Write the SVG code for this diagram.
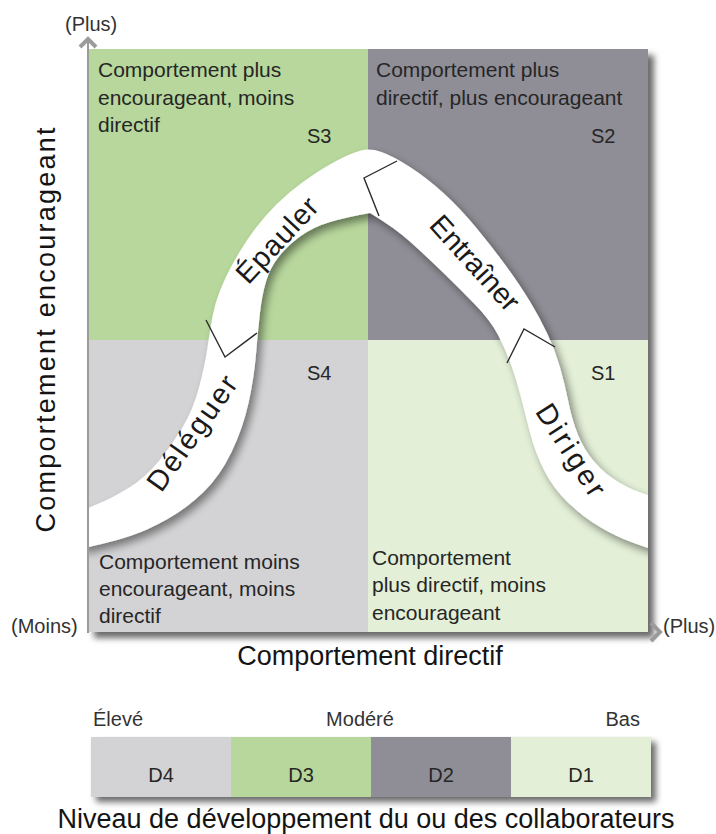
<svg xmlns="http://www.w3.org/2000/svg" width="716" height="834" viewBox="0 0 716 834">
<style>
text{font-family:"Liberation Sans",Arial,sans-serif;fill:#262626}
.q{font-size:21px}
.s{font-size:20px}
.ax{font-size:20px;fill:#333}
.title{font-size:27px;fill:#141414}
.lbl{font-size:29px;fill:#1a1a1a;text-anchor:middle}
.d{font-size:20px;text-anchor:middle}
.chev{fill:none;stroke:#2b2b2b;stroke-width:1.4;stroke-linejoin:miter}
.arrow{fill:none;stroke:#9b9b9b;stroke-width:4}
.band{fill:#ffffff}
</style>
<defs>
<filter id="blur" x="-10%" y="-10%" width="120%" height="120%"><feGaussianBlur stdDeviation="3"/></filter>
<filter id="bsh" x="-20%" y="-20%" width="140%" height="140%">
<feGaussianBlur in="SourceAlpha" stdDeviation="4"/>
<feOffset dx="4" dy="5"/>
<feComponentTransfer><feFuncA type="linear" slope="0.45"/></feComponentTransfer>
<feMerge><feMergeNode/><feMergeNode in="SourceGraphic"/></feMerge>
</filter>
<clipPath id="sq"><rect x="88" y="49" width="560" height="583"/></clipPath>
</defs>

<rect x="94" y="55" width="560" height="583" fill="#6a6a6a" filter="url(#blur)"/>

<g id="q-s3"><rect x="88" y="49" width="280" height="291" fill="#b7d79c"/>
<text class="q" x="98" y="77">Comportement plus</text>
<text class="q" x="98" y="105">encourageant, moins</text>
<text class="q" x="98" y="132">directif</text>
<text class="s" x="307" y="143">S3</text></g>

<g id="q-s2"><rect x="368" y="49" width="280" height="291" fill="#8f8e96"/>
<text class="q" x="376" y="77">Comportement plus</text>
<text class="q" x="376" y="105">directif, plus encourageant</text>
<text class="s" x="591" y="143">S2</text></g>

<g id="q-s4"><rect x="88" y="340" width="280" height="292" fill="#d3d3d5"/>
<text class="q" x="99" y="569">Comportement moins</text>
<text class="q" x="99" y="596">encourageant, moins</text>
<text class="q" x="99" y="623">directif</text>
<text class="s" x="307" y="380">S4</text></g>

<g id="q-s1"><rect x="368" y="340" width="280" height="292" fill="#e3efd7"/>
<text class="q" x="372" y="565">Comportement</text>
<text class="q" x="372" y="592">plus directif, moins</text>
<text class="q" x="372" y="620">encourageant</text>
<text class="s" x="591" y="380">S1</text></g>

<g id="curve" clip-path="url(#sq)">
<path class="band" filter="url(#bsh)" d="M88,508 L100,503 Q112,498 128.5,488 Q145,478 158.5,461.5 Q172,445 182.5,427.5 Q193,410 199,387.5 Q205,365 207.5,347.5 Q210,330 212.5,316.5 Q215,303 220,290.5 Q225,278 231.5,266 Q238,254 246.5,241 Q255,228 266,215.5 Q277,203 289.5,192.5 Q302,182 316,173 Q330,164 341,158.5 Q352,153 361,150.5 Q370,148 381.5,152 Q393,156 410,167 Q427,178 443.5,193 Q460,208 476.5,228 Q493,248 506.5,266.5 Q520,285 530,301.5 Q540,318 547.5,334 Q555,350 560,367.5 Q565,385 568.5,402.5 Q572,420 578,435 Q584,450 594.5,462 Q605,474 617.5,481.5 Q630,489 639,492 L660,499 L660,552 L648,548 L632.5,542.5 Q617,537 600,527 Q583,517 568,502.5 Q553,488 544,470 Q535,452 530,432.5 Q525,413 520.5,395.5 Q516,378 510.5,363 Q505,348 497.5,334 Q490,320 475,304.5 Q460,289 443.5,273 Q427,257 411,242.5 Q395,228 370,213 Q347,217 330,222 Q313,227 300,236.5 Q287,246 278.5,257 Q270,268 266,281.5 Q262,295 260,312.5 Q258,330 256,354 Q254,378 248.5,403 Q243,428 231.5,452 Q220,476 203.5,492 Q187,508 167.5,519 Q148,530 131.5,535.5 Q115,541 101.5,544 L80,549 L80,508 Z"/>
</g>

<g id="connectors">
<polyline class="chev" points="206,320 225,357 257,333"/>
<polyline class="chev" points="397,161 364,178 379,216"/>
<polyline class="chev" points="507,363 524,329 555,347"/>
<line x1="88" y1="42" x2="88" y2="633" stroke="#9b9b9b" stroke-width="2"/>
<polyline class="arrow" points="80,47 88,39 96,47"/>
<polyline class="arrow" points="651,623 660,632 651,641"/>
</g>

<g id="style-labels">
<text class="lbl" transform="translate(192,433) rotate(-54.6)" y="10" textLength="134" lengthAdjust="spacing">Déléguer</text>
<text class="lbl" transform="translate(277,240) rotate(-47)" y="10" textLength="106" lengthAdjust="spacing">Épauler</text>
<text class="lbl" transform="translate(475,263) rotate(47.7)" y="10" textLength="118" lengthAdjust="spacing">Entraîner</text>
<text class="lbl" transform="translate(571,450) rotate(57.4)" y="10" textLength="104" lengthAdjust="spacing">Diriger</text>
</g>

<g id="axis-labels">
<text class="ax" x="65" y="31">(Plus)</text>
<text class="ax" x="11" y="633">(Moins)</text>
<text class="ax" x="663" y="633">(Plus)</text>
<text class="title" x="370" y="665" text-anchor="middle">Comportement directif</text>
<text class="title" transform="translate(55,330) rotate(-90)" text-anchor="middle" font-size="28" textLength="405" lengthAdjust="spacing">Comportement encourageant</text>
</g>

<g id="dev-bar">
<rect x="96" y="742" width="560" height="60" fill="#6a6a6a" filter="url(#blur)"/>
<rect x="91" y="737" width="140" height="60" fill="#d3d3d5"/>
<rect x="231" y="737" width="140" height="60" fill="#b7d79c"/>
<rect x="371" y="737" width="140" height="60" fill="#8f8e96"/>
<rect x="511" y="737" width="140" height="60" fill="#e3efd7"/>
<text class="d" x="161" y="782">D4</text>
<text class="d" x="301" y="782">D3</text>
<text class="d" x="441" y="782">D2</text>
<text class="d" x="581" y="782">D1</text>
<text class="ax" x="93" y="726">Élevé</text>
<text class="ax" x="360" y="726" text-anchor="middle">Modéré</text>
<text class="ax" x="640" y="726" text-anchor="end">Bas</text>
<text class="title" x="366" y="828" text-anchor="middle">Niveau de développement du ou des collaborateurs</text>
</g>
</svg>
